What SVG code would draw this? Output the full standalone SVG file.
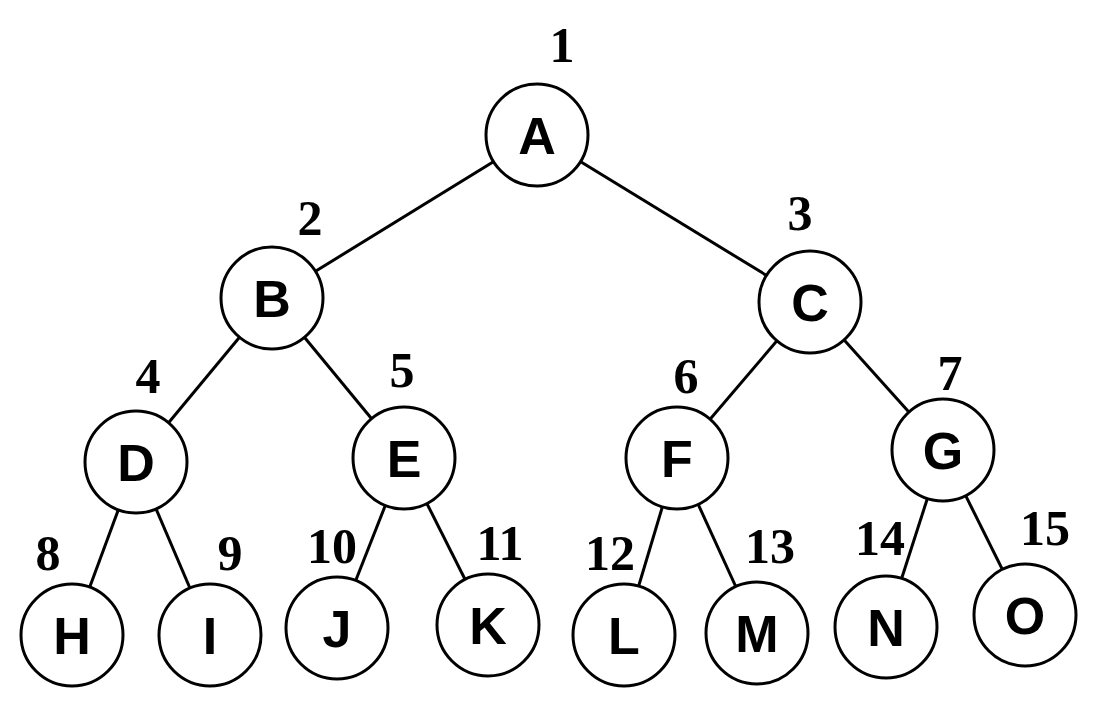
<svg xmlns="http://www.w3.org/2000/svg" width="1108" height="717" viewBox="0 0 1108 717">
<style>
.n circle{fill:#fff;stroke:#000;stroke-width:3}
.n text{font-family:"Liberation Sans",Arial,sans-serif;font-weight:bold;font-size:52px;text-anchor:middle}
.num{font-family:"Liberation Serif","Times New Roman",serif;font-weight:bold;font-size:50px;text-anchor:middle}
#edges line{stroke:#000;stroke-width:3}
</style>
<rect width="1108" height="717" fill="#fff"/>
<g id="edges">
<line x1="537" y1="135" x2="272" y2="298"/><line x1="537" y1="135" x2="810" y2="302"/>
<line x1="272" y1="298" x2="136" y2="462"/><line x1="272" y1="298" x2="404" y2="458"/>
<line x1="810" y1="302" x2="677" y2="458"/><line x1="810" y1="302" x2="943" y2="450"/>
<line x1="136" y1="462" x2="72" y2="635"/><line x1="136" y1="462" x2="210" y2="635"/>
<line x1="404" y1="458" x2="337" y2="628"/><line x1="404" y1="458" x2="488" y2="625"/>
<line x1="677" y1="458" x2="624" y2="635"/><line x1="677" y1="458" x2="757" y2="633"/>
<line x1="943" y1="450" x2="886" y2="627"/><line x1="943" y1="450" x2="1025" y2="615"/>
</g>
<g id="A" class="n"><circle cx="537" cy="135" r="51"/><text x="537" y="154">A</text></g>
<g id="B" class="n"><circle cx="272" cy="298" r="51"/><text x="272" y="317">B</text></g>
<g id="C" class="n"><circle cx="810" cy="302" r="51"/><text x="810" y="321">C</text></g>
<g id="D" class="n"><circle cx="136" cy="462" r="51"/><text x="136" y="481">D</text></g>
<g id="E" class="n"><circle cx="404" cy="458" r="51"/><text x="404" y="477">E</text></g>
<g id="F" class="n"><circle cx="677" cy="458" r="51"/><text x="677" y="477">F</text></g>
<g id="G" class="n"><circle cx="943" cy="450" r="51"/><text x="943" y="469">G</text></g>
<g id="H" class="n"><circle cx="72" cy="635" r="51"/><text x="72" y="654">H</text></g>
<g id="I" class="n"><circle cx="210" cy="635" r="51"/><text x="210" y="654">I</text></g>
<g id="J" class="n"><circle cx="337" cy="628" r="51"/><text x="337" y="647">J</text></g>
<g id="K" class="n"><circle cx="488" cy="625" r="51"/><text x="488" y="644">K</text></g>
<g id="L" class="n"><circle cx="624" cy="635" r="51"/><text x="624" y="654">L</text></g>
<g id="M" class="n"><circle cx="757" cy="633" r="51"/><text x="757" y="652">M</text></g>
<g id="N" class="n"><circle cx="886" cy="627" r="51"/><text x="886" y="646">N</text></g>
<g id="O" class="n"><circle cx="1025" cy="615" r="51"/><text x="1025" y="634">O</text></g>
<g id="labels">
<text class="num" x="562" y="62">1</text>
<text class="num" x="310" y="235">2</text>
<text class="num" x="800" y="230">3</text>
<text class="num" x="148" y="393">4</text>
<text class="num" x="402" y="387">5</text>
<text class="num" x="686" y="393">6</text>
<text class="num" x="950" y="390">7</text>
<text class="num" x="48" y="570">8</text>
<text class="num" x="230" y="570">9</text>
<text class="num" x="332" y="563">10</text>
<text class="num" x="500" y="560">11</text>
<text class="num" x="610" y="570">12</text>
<text class="num" x="770" y="563">13</text>
<text class="num" x="880" y="555">14</text>
<text class="num" x="1045" y="545">15</text>
</g>
</svg>
